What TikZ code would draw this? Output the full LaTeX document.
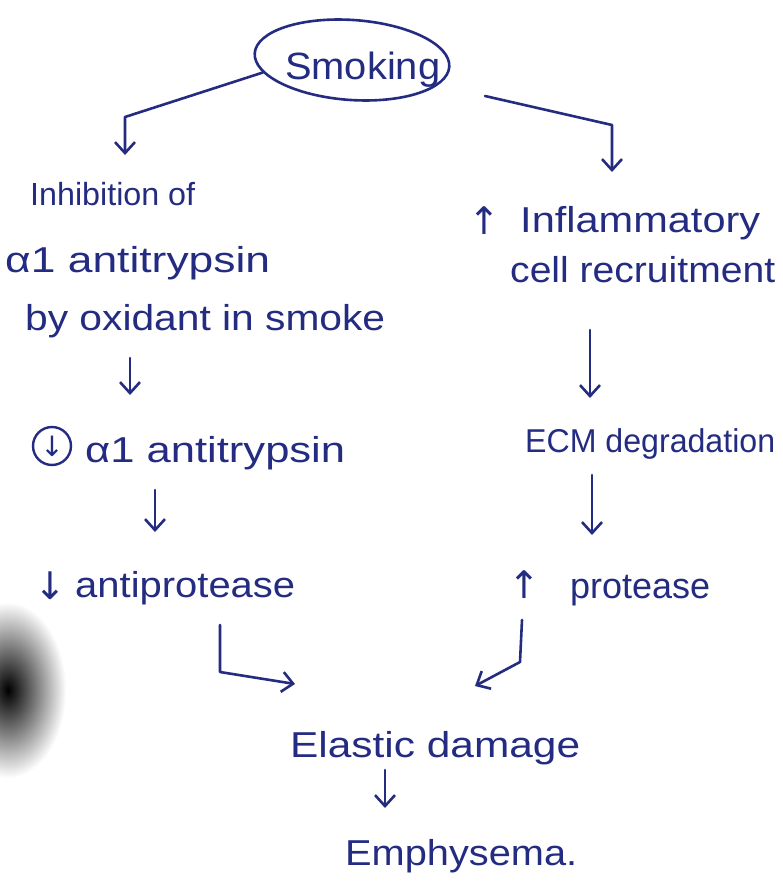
\documentclass[tikz,border=0pt]{standalone}
\usepackage{fontspec}
\usepackage{graphicx}
\setmainfont{Liberation Sans}
\newfontfamily\symf{DejaVu Sans}
\usetikzlibrary{arrows.meta,shapes.geometric}
\definecolor{ink}{RGB}{36,44,130}
\newcommand{\hw}[2]{\resizebox{#1}{\height}{#2}}
\begin{document}
\begin{tikzpicture}[x=1pt,y=-1pt,
  lbl/.style={anchor=base west,inner sep=0pt,text=ink,font=\fontsize{36}{42}\selectfont},
  sym/.style={anchor=base west,inner sep=0pt,text=ink,font=\symf\fontsize{38}{44}\selectfont},
  conn/.style={draw=ink,line width=2.6pt,line cap=round,line join=round},
  arr/.style={conn,-{Straight Barb[length=11pt,width=20pt,line width=2.6pt]}}
]
\useasboundingbox[fill=white] (0,0) rectangle (783,891);
\shade[inner color=black,outer color=white] (8,690) ellipse [x radius=58pt,y radius=88pt];

% top
\node[ellipse,draw=ink,line width=2.6pt,minimum width=195pt,minimum height=80pt,rotate=-4] (smk) at (352,60) {};
\node[lbl,font=\fontsize{38}{44}\selectfont] (smkt) at (285,80) {\hw{155pt}{Smoking}};

% left column
\node[lbl,font=\fontsize{32}{38}\selectfont] (inh1) at (30,205) {\hw{165pt}{Inhibition of}};
\node[lbl] (inh2) at (5,272) {\hw{265pt}{α1 antitrypsin}};
\node[lbl] (inh3) at (25,330) {\hw{360pt}{by oxidant in smoke}};
\node[draw=ink,circle,line width=2.4pt,minimum size=38pt,inner sep=0pt,text=ink,font=\symf\fontsize{28}{32}\selectfont] (circ) at (52,446) {↓};
\node[lbl] (aat) at (85,462) {\hw{260pt}{α1 antitrypsin}};
\node[sym] (dn2) at (34,599) {↓};
\node[lbl] (antip) at (75,597) {\hw{220pt}{antiprotease}};

% right column
\node[sym] (up1) at (468,234) {↑};
\node[lbl] (infl) at (520,232) {\hw{240pt}{Inflammatory}};
\node[lbl] (cell) at (510,282) {\hw{265pt}{cell recruitment}};
\node[lbl,font=\fontsize{33}{39}\selectfont] (ecm) at (525,452) {\hw{250pt}{ECM degradation}};
\node[sym] (up2) at (508,598) {↑};
\node[lbl] (prot) at (570,598) {\hw{140pt}{protease}};

% bottom
\node[lbl] (elas) at (290,757) {\hw{290pt}{Elastic damage}};
\node[lbl] (emph) at (345,865) {\hw{232pt}{Emphysema.}};

% coordinates
\coordinate (l1) at (125,117);
\coordinate (l2) at (125,155);
\coordinate (r0) at (485,96);
\coordinate (r1) at (612,125);
\coordinate (r2) at (612,172);
\coordinate (a1s) at (130,358);
\coordinate (a1e) at (130,395);
\coordinate (a2s) at (155,490);
\coordinate (a2e) at (155,532);
\coordinate (a3s) at (590,330);
\coordinate (a3e) at (590,398);
\coordinate (a4s) at (592,475);
\coordinate (a4e) at (592,535);
\coordinate (a5s) at (385,770);
\coordinate (a5e) at (385,808);
\coordinate (e1s) at (220,625);
\coordinate (e1m) at (220,672);
\coordinate (e1e) at (295,684);
\coordinate (e2s) at (522,620);
\coordinate (e2m) at (520,662);
\coordinate (e2e) at (475,686);

% connectors
\draw[arr] (smk.192) -- (l1) -- (l2);
\draw[arr] (r0) -- (r1) -- (r2);
\draw[arr] (a1s) -- (a1e);
\draw[arr] (a2s) -- (a2e);
\draw[arr] (a3s) -- (a3e);
\draw[arr] (a4s) -- (a4e);
\draw[arr] (a5s) -- (a5e);
\draw[arr] (e1s) -- (e1m) -- (e1e);
\draw[arr] (e2s) -- (e2m) -- (e2e);
\end{tikzpicture}
\end{document}
